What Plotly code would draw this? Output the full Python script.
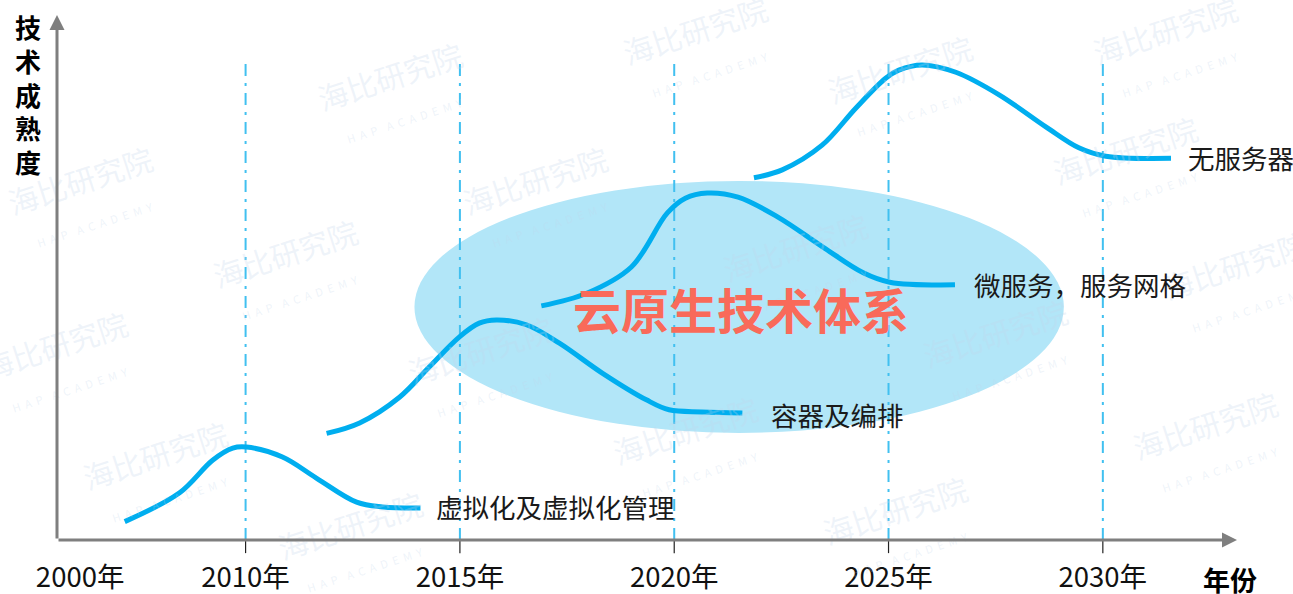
import plotly.graph_objects as go

# 技术曲线（x：年份，y：技术成熟度 0-100，读图估计）
virt_x = [2007.18, 2008.46, 2009.23, 2009.70, 2010.02, 2010.86, 2011.65, 2012.59, 2013.19, 2014.08]
virt_y = [3.5, 9.0, 15.2, 17.5, 17.7, 15.8, 11.8, 7.2, 6.3, 6.1]

cont_x = [2011.89, 2012.66, 2013.59, 2014.29, 2014.99, 2015.45, 2015.85, 2016.55, 2017.32,
          2018.32, 2019.35, 2019.88, 2020.65, 2021.59]
cont_y = [20.3, 22.3, 27.2, 33.0, 38.7, 41.3, 41.9, 41.0, 37.5, 31.8, 26.7, 24.8, 24.4, 24.2]

micro_x = [2016.90, 2017.96, 2019.00, 2019.84, 2020.26, 2020.77, 2021.49, 2022.42, 2023.47,
           2024.41, 2025.03, 2026.55]
micro_y = [44.6, 47.0, 52.0, 62.3, 65.1, 66.1, 65.3, 61.5, 55.8, 50.9, 49.1, 48.6]

svl_x = [2021.86, 2022.52, 2023.45, 2024.24, 2024.94, 2025.24, 2025.78, 2026.57, 2027.58,
         2028.67, 2029.44, 2030.07, 2031.59]
svl_y = [69.0, 70.5, 75.2, 82.3, 88.0, 89.5, 90.5, 89.1, 84.8, 78.7, 74.7, 73.1, 72.7]

curve_names = ["虚拟化及虚拟化管理", "容器及编排", "微服务，服务网格", "无服务器"]

# 刻度（2000年 在断轴位置）
tick_vals = [2006.14, 2010, 2015, 2020, 2025, 2030]
tick_text = ["2000年", "2010年", "2015年", "2020年", "2025年", "2030年"]
guide_years = [2010, 2015, 2020, 2025, 2030]

# 云原生椭圆范围
ellipse_x = [2013.94, 2029.09]
ellipse_y = [20.4, 68.4]

# 水印位置（像素）
wm_pos = [(700, 45), (1170, 45), (395, 92), (905, 85), (85, 195), (540, 195), (1130, 165),
          (290, 268), (800, 262), (1240, 280), (485, 365), (60, 360), (1000, 348),
          (160, 470), (690, 445), (1210, 440), (355, 540), (900, 525)]

FONT = "Noto Sans CJK SC"
BLUE = "#00AEEF"
X0, X1 = 2005.6, 2033.2


def paper(px, py):
    return (px - 57) / 1183, (540 - py) / 525


fig = go.Figure()

curves = [(virt_x, virt_y), (cont_x, cont_y), (micro_x, micro_y), (svl_x, svl_y)]
for (cx, cy), nm in zip(curves, curve_names):
    fig.add_trace(go.Scatter(x=cx, y=cy, mode="lines", name=nm, hoverinfo="skip",
                             line=dict(color=BLUE, width=5, shape="spline", smoothing=1.0)))

# 椭圆
fig.add_shape(type="circle", xref="x", yref="y", x0=ellipse_x[0], x1=ellipse_x[1],
              y0=ellipse_y[0], y1=ellipse_y[1], fillcolor="#B2E6F8",
              line=dict(width=0), layer="below")

# 竖向点划线 + 刻度线
for yr in guide_years:
    fig.add_shape(type="line", xref="x", yref="y", x0=yr, x1=yr, y0=0, y1=92,
                  line=dict(color="#41C0F0", width=2, dash="12px,7px,3px,7px"), layer="below")
    fig.add_shape(type="line", xref="x", yref="paper", x0=yr, x1=yr, y0=-0.002, y1=-0.025,
                  line=dict(color="#222222", width=1.2))

# 水印
for px, py in wm_pos:
    wx, wy = paper(px, py)
    fig.add_annotation(xref="paper", yref="paper", x=wx, y=wy,
                       xanchor="center", yanchor="middle",
                       text="海比研究院<br><span style='font-size:11px'>H  A  P    A  C  A  D  E  M  Y</span>",
                       showarrow=False, textangle=-18,
                       font=dict(family=FONT, size=30, color="rgba(195,213,235,0.28)"))

# 坐标轴箭头
fig.add_annotation(x=2033.13, y=0, ax=X0, ay=0, xref="x", yref="y", axref="x", ayref="y",
                   text="", showarrow=True, arrowhead=2, arrowsize=1, arrowwidth=3,
                   arrowcolor="#7F7F7F")
fig.add_annotation(x=X0, y=100, ax=X0, ay=0, xref="x", yref="y", axref="x", ayref="y",
                   text="", showarrow=True, arrowhead=2, arrowsize=1, arrowwidth=3,
                   arrowcolor="#7F7F7F")

# 曲线标签
label_pos = [(2014.4, 6.3), (2022.2, 24.0), (2026.95, 48.6), (2031.95, 72.8)]
for (lx, ly), nm in zip(label_pos, curve_names):
    fig.add_annotation(x=lx, y=ly, text=nm, showarrow=False, xanchor="left", yanchor="middle",
                       font=dict(family=FONT, size=26.5, color="#1A1A1A"))

fig.add_annotation(x=2021.56, y=44.2, text="<b>云原生技术体系</b>", showarrow=False,
                   xanchor="center", yanchor="middle",
                   font=dict(family=FONT, size=48, color="#F96A5A"))

# 轴标题
tx, ty = paper(28, 94)
fig.add_annotation(xref="paper", yref="paper", x=tx, y=ty, xanchor="center", yanchor="middle",
                   text="<b>技<br>术<br>成<br>熟<br>度</b>", showarrow=False,
                   font=dict(family=FONT, size=26, color="#000000"))
tx, ty = paper(1230, 579)
fig.add_annotation(xref="paper", yref="paper", x=tx, y=ty, xanchor="center", yanchor="middle",
                   text="<b>年份</b>", showarrow=False,
                   font=dict(family=FONT, size=27, color="#000000"))

fig.update_layout(
    width=1293, height=594,
    margin=dict(l=57, r=53, t=15, b=54),
    plot_bgcolor="white", paper_bgcolor="white",
    showlegend=False,
    xaxis=dict(range=[X0, X1], showgrid=False, zeroline=False, showline=False,
               automargin=False,
               tickvals=tick_vals, ticktext=tick_text, ticks="",
               ticklabelstandoff=18,
               tickfont=dict(family=FONT, size=27.5, color="#111111")),
    yaxis=dict(range=[0, 100], showgrid=False, zeroline=False, showline=False,
               automargin=False, showticklabels=False),
)

fig.write_html("out.html", post_script="document.body.style.margin='0';",
               config={"displayModeBar": False})
